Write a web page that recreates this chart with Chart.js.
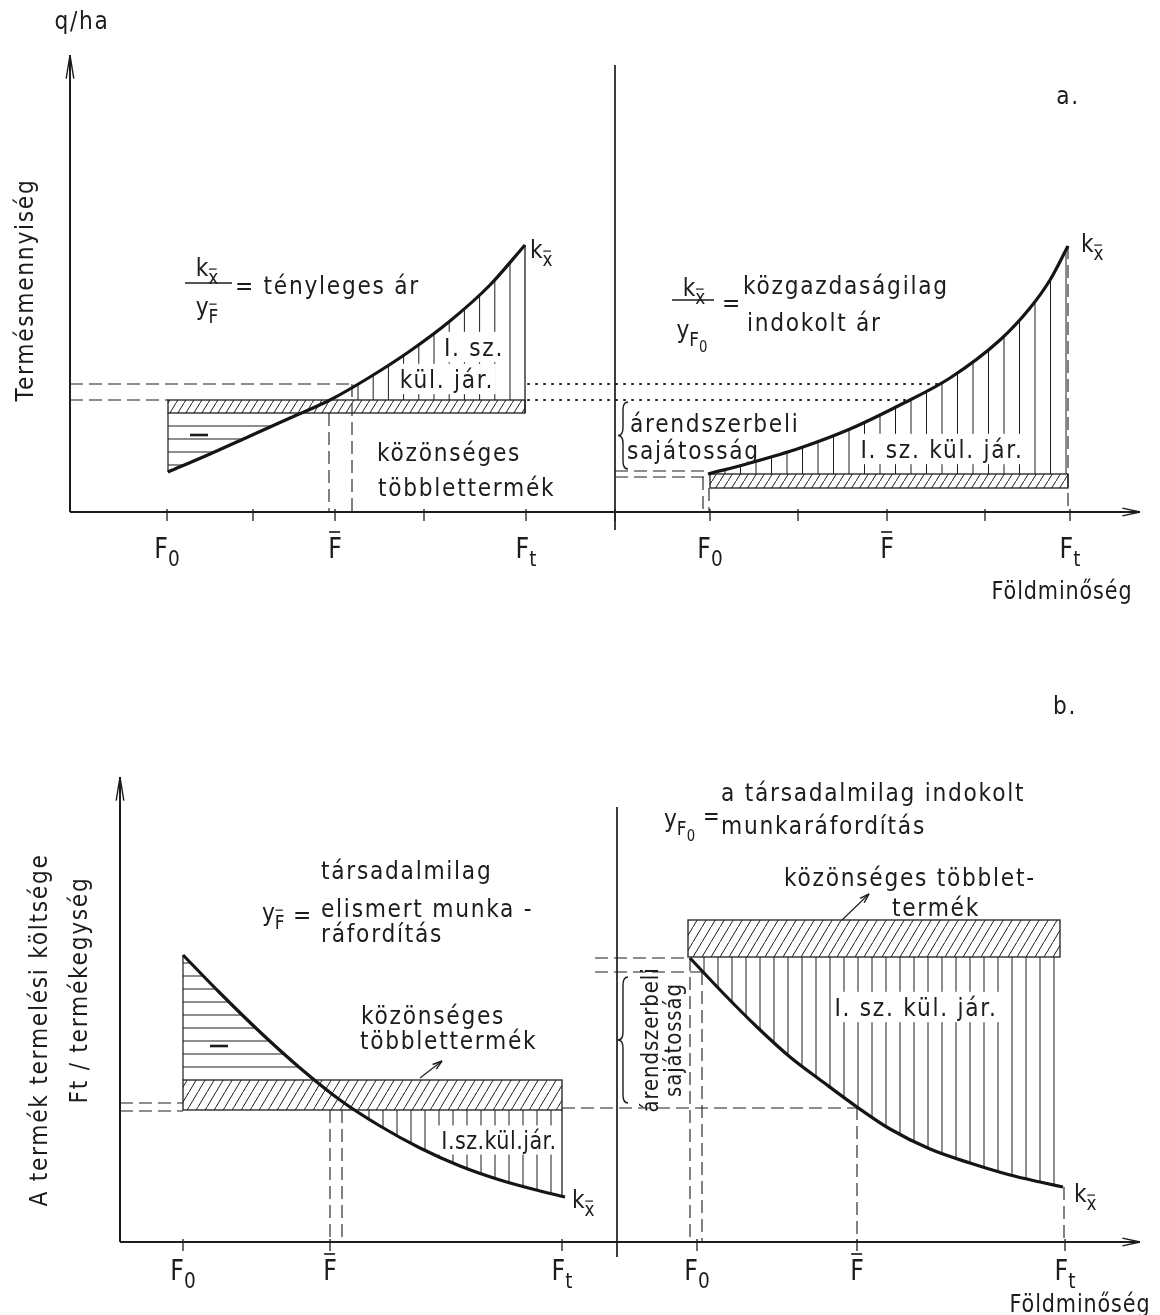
<!DOCTYPE html>
<html>
<head>
<meta charset="utf-8">
<script src="https://cdn.jsdelivr.net/npm/chart.js@4.4.1/dist/chart.umd.min.js"></script>
<style>
  body { margin: 0; background: #fff; }
  canvas { position: absolute; left: 0; }
</style>
</head>
<body>
<canvas id="chartA" width="1160" height="657" style="top:0"></canvas>
<canvas id="chartB" width="1160" height="658" style="top:657px"></canvas>
<script>
// ---- a. : yield (q/ha) against land quality ----
var aTickPos     = [9.7, 26.5, 45.6, 64, 81.7, 100];
var aTickLabels  = ['F_0', '~F', 'F_t', 'F_0', '~F', 'F_t'];
var aMinorTicks  = [18.3, 35.4, 54.5, 72.8, 91.5];
var aLeftX       = [9.8, 14, 18, 22, 26, 30, 34, 38, 42, 45.5];
var aLeftY       = [8, 11.6, 15.2, 18.8, 22.4, 27, 32.2, 38.2, 45.4, 53.4];
var aRightX      = [63.8, 68, 73, 78, 83, 88, 93, 96, 98, 99.8];
var aRightY      = [7.6, 9.8, 12.8, 16.6, 21.4, 26.8, 34.4, 40.8, 46.4, 53.2];
var aBandLeft    = [19.8, 22.4];   // common surplus band, left
var aBandRight   = [4.8, 7.6];     // common surplus band, right
var aPriceLevels = [25.6, 22.4];   // dashed / dotted levels

// ---- b. : production cost per unit against land quality ----
var bTickPos     = [6.3, 21, 44.2, 57.7, 73.7, 94.5];
var bTickLabels  = ['F_0', '~F', 'F_t', 'F_0', '~F', 'F_t'];
var bLeftX       = [6.3, 10, 14, 18, 22, 26, 30, 34, 38, 42, 44.5];
var bLeftY       = [57.4, 49.8, 42, 34.8, 28.4, 23.2, 18.8, 15.2, 12.4, 10.2, 9];
var bRightX      = [57, 60.3, 63.7, 67, 70.3, 73.7, 77, 81, 85, 89, 92, 94.3];
var bRightY      = [56.8, 49.8, 43, 37, 32, 27, 22.6, 18.6, 15.8, 13.4, 12, 11];
var bBandLeft    = [26.4, 32.4];
var bBoxRight    = [57, 64.4];

var FONT = '"DejaVu Sans", "Noto Sans", sans-serif';
var INK = '#1c1c1c';
var NARROW = 0.86;   // lettering is taller and narrower than the font

function pts(xs, ys) { return xs.map(function (x, i) { return { x: x, y: ys[i] }; }); }

function yAt(xs, ys, x) {
  for (var i = 0; i < xs.length - 1; i++) {
    if (x >= xs[i] && x <= xs[i + 1]) {
      var t = (x - xs[i]) / (xs[i + 1] - xs[i]);
      return ys[i] + t * (ys[i + 1] - ys[i]);
    }
  }
  return ys[ys.length - 1];
}
function xAt(xs, ys, y) {
  for (var i = 0; i < ys.length - 1; i++) {
    var lo = Math.min(ys[i], ys[i + 1]), hi = Math.max(ys[i], ys[i + 1]);
    if (y >= lo && y <= hi) {
      var t = (y - ys[i]) / (ys[i + 1] - ys[i]);
      return xs[i] + t * (xs[i + 1] - xs[i]);
    }
  }
  return xs[xs.length - 1];
}

function seg(ctx, x1, y1, x2, y2, w, dash) {
  ctx.save();
  ctx.lineWidth = w || 1.2;
  ctx.strokeStyle = INK;
  ctx.setLineDash(dash || []);
  if (dash && dash[0] < 4) ctx.lineCap = 'round';
  ctx.beginPath(); ctx.moveTo(x1, y1); ctx.lineTo(x2, y2); ctx.stroke();
  ctx.restore();
}

function head(ctx, x, y, ang, len, spread) {
  var a1 = ang + Math.PI - spread, a2 = ang + Math.PI + spread;
  seg(ctx, x, y, x + len * Math.cos(a1), y + len * Math.sin(a1), 1.4);
  seg(ctx, x, y, x + len * Math.cos(a2), y + len * Math.sin(a2), 1.4);
}

function arrow(ctx, x1, y1, x2, y2) {
  seg(ctx, x1, y1, x2, y2, 1.1);
  head(ctx, x2, y2, Math.atan2(y2 - y1, x2 - x1), 10, 0.3);
}

function brace(ctx, x, y1, y2, w) {
  var m = (y1 + y2) / 2, r = Math.min(8, (y2 - y1) / 6);
  ctx.save();
  ctx.strokeStyle = INK; ctx.lineWidth = 1.4;
  ctx.beginPath();
  ctx.moveTo(x + w, y1);
  ctx.quadraticCurveTo(x, y1, x, y1 + r);
  ctx.lineTo(x, m - r);
  ctx.quadraticCurveTo(x, m, x - w, m);
  ctx.quadraticCurveTo(x, m, x, m + r);
  ctx.lineTo(x, y2 - r);
  ctx.quadraticCurveTo(x, y2, x + w, y2);
  ctx.stroke();
  ctx.restore();
}

function hatch(ctx, w, h) {
  var c = document.createElement('canvas');
  c.width = w; c.height = h;
  var g = c.getContext('2d');
  g.strokeStyle = INK; g.lineWidth = 1;
  g.beginPath();
  g.moveTo(-w * 0.2, h * 1.2); g.lineTo(w * 1.2, -h * 0.2);
  g.stroke();
  return ctx.createPattern(c, 'repeat');
}

function box(ctx, x1, y1, x2, y2, pw, ph) {
  ctx.save();
  ctx.fillStyle = hatch(ctx, pw, ph);
  ctx.fillRect(x1, y1, x2 - x1, y2 - y1);
  ctx.strokeStyle = INK; ctx.lineWidth = 1.3;
  ctx.strokeRect(x1, y1, x2 - x1, y2 - y1);
  ctx.restore();
}

// text with '_' subscripts and '~' overbars, y = vertical middle
function rich(ctx, str, x, y, size, opts) {
  opts = opts || {};
  size = size * 1.15;
  var parts = str.split('_').map(function (p, i) {
    var bar = p.charAt(0) === '~';
    return { t: bar ? p.slice(1) : p, bar: bar, s: size * Math.pow(0.78, i) };
  });
  ctx.save();
  ctx.translate(x, y);
  if (opts.rot) ctx.rotate(opts.rot);
  ctx.scale(NARROW, 1);
  ctx.textBaseline = 'alphabetic';
  ctx.letterSpacing = (opts.sp != null ? opts.sp : 2) + 'px';
  var total = 0;
  parts.forEach(function (p) { ctx.font = p.s + 'px ' + FONT; p.w = ctx.measureText(p.t).width; total += p.w; });
  var cx = opts.align === 'center' ? -total / 2 : 0;
  var base = size * 0.36;
  if (opts.bg) { ctx.fillStyle = '#fff'; ctx.fillRect(cx - 4, -size * 0.6, total + 6, size * 1.2); }
  ctx.fillStyle = INK;
  var dy = 0;
  parts.forEach(function (p, i) {
    if (i > 0) dy += parts[i - 1].s * 0.3;
    ctx.font = p.s + 'px ' + FONT;
    ctx.fillText(p.t, cx, base + dy);
    if (p.bar) {
      var hh = /[A-Z]/.test(p.t) ? 0.8 : 0.6;
      var by = base + dy - p.s * hh - Math.max(2.5, p.s * 0.14);
      seg(ctx, cx + p.s * 0.04, by, cx + p.w - 2, by, Math.max(1, p.s * 0.06));
    }
    cx += p.w;
  });
  ctx.restore();
}

function axes(ctx, X, Y, xEnd, yEnd, divX, divY1, divY2) {
  seg(ctx, X(0), Y(0), X(xEnd), Y(0), 2);
  head(ctx, X(xEnd), Y(0), 0, 18, 0.22);
  seg(ctx, X(0), Y(0), X(0), Y(yEnd), 2);
  head(ctx, X(0), Y(yEnd), -Math.PI / 2, 24, 0.16);
  seg(ctx, X(divX), Y(divY1), X(divX), Y(divY2), 1.7);
}

function ticks(ctx, X, Y, list) {
  list.forEach(function (t) { seg(ctx, X(t), Y(0) - 3, X(t), Y(0) + 9, 1.3); });
}

function vLines(ctx, X, Y, from, to, step, base, cx, cy) {
  for (var x = from; x < to - 0.2; x += step) {
    seg(ctx, X(x), Y(base), X(x), Y(yAt(cx, cy, x)), 1);
  }
}

var DASH = [13, 6], DOT = [1, 7];

var panelA = {
  id: 'panelA',
  beforeDatasetsDraw: function (chart) {
    var ctx = chart.ctx, sx = chart.scales.x, sy = chart.scales.y;
    var X = function (v) { return sx.getPixelForValue(v); };
    var Y = function (v) { return sy.getPixelForValue(v); };

    axes(ctx, X, Y, 107, 91.4, 54.5, -3.6, 89.4);
    ticks(ctx, X, Y, aTickPos.concat(aMinorTicks));
    aTickPos.forEach(function (t, i) { rich(ctx, aTickLabels[i], X(t), Y(-7.2), 24, { align: 'center', sp: 0 }); });

    // left: common surplus band and the negative part below it
    box(ctx, X(aLeftX[0]), Y(aBandLeft[1]), X(45.5), Y(aBandLeft[0]), 8, 13);
    [17.2, 14.6, 12, 9.4].forEach(function (lv) {
      seg(ctx, X(aLeftX[0]), Y(lv), X(xAt(aLeftX, aLeftY, lv)), Y(lv), 1);
    });
    seg(ctx, X(aLeftX[0]), Y(aBandLeft[0]), X(aLeftX[0]), Y(aLeftY[0]), 1.2);
    seg(ctx, X(12), Y(15.4), X(13.8), Y(15.4), 2.6);
    // differential rent I, left
    vLines(ctx, X, Y, 28.8, 45.5, 1.52, aBandLeft[1], aLeftX, aLeftY);
    seg(ctx, X(45.5), Y(aBandLeft[0]), X(45.5), Y(aLeftY[aLeftY.length - 1]), 1.3);

    seg(ctx, X(0), Y(aPriceLevels[0]), X(28.2), Y(aPriceLevels[0]), 1.2, DASH);
    seg(ctx, X(0), Y(aPriceLevels[1]), X(aLeftX[0]), Y(aPriceLevels[1]), 1.2, DASH);
    seg(ctx, X(25.9), Y(aBandLeft[0]), X(25.9), Y(0), 1.1, DASH);
    seg(ctx, X(28.2), Y(aPriceLevels[0]), X(28.2), Y(0), 1.1, DASH);
    seg(ctx, X(45.8), Y(aPriceLevels[0]), X(xAt(aRightX, aRightY, aPriceLevels[0])), Y(aPriceLevels[0]), 2, DOT);
    seg(ctx, X(45.8), Y(aPriceLevels[1]), X(xAt(aRightX, aRightY, aPriceLevels[1])), Y(aPriceLevels[1]), 2, DOT);

    // right
    box(ctx, X(64), Y(aBandRight[1]), X(99.8), Y(aBandRight[0]), 8, 13);
    vLines(ctx, X, Y, 65.5, 99.8, 1.55, aBandRight[1], aRightX, aRightY);
    seg(ctx, X(99.8), Y(aRightY[aRightY.length - 1]), X(99.8), Y(0), 1.1, DASH);
    seg(ctx, X(54.5), Y(8.2), X(63.6), Y(8.2), 1.1, DASH);
    seg(ctx, X(54.5), Y(7.0), X(64), Y(7.0), 1.1, DASH);
    seg(ctx, X(63.3), Y(7), X(63.3), Y(0), 1.1, DASH);
    seg(ctx, X(63.9), Y(4.8), X(63.9), Y(0), 1.1, DASH);
    brace(ctx, X(55.3), Y(22), Y(8.6), 5);

    // texts
    rich(ctx, 'q/ha', X(1.2), Y(98.4), 22, { align: 'center', sp: 2 });
    rich(ctx, 'a.', X(99.8), Y(83.4), 22, { align: 'center' });
    rich(ctx, 'Termésmennyiség', X(-4.6), Y(44.4), 22, { align: 'center', rot: -Math.PI / 2 });

    rich(ctx, 'k_~x', X(13.7), Y(49), 22, { align: 'center', sp: 0 });
    seg(ctx, X(11.5), Y(45.8), X(16.2), Y(45.8), 1.3);
    rich(ctx, 'y_~F', X(13.7), Y(41.2), 22, { align: 'center', sp: 0 });
    rich(ctx, '= tényleges ár', X(16.5), Y(45.4), 22);
    rich(ctx, 'k_~x', X(46), Y(52.6), 22, { sp: 0 });

    rich(ctx, 'k_~x', X(62.4), Y(45), 22, { align: 'center', sp: 0 });
    seg(ctx, X(60.2), Y(42.4), X(64.4), Y(42.4), 1.3);
    rich(ctx, 'y_F_0', X(62.2), Y(36.6), 22, { align: 'center', sp: 0 });
    rich(ctx, '=', X(65.2), Y(42), 22);
    rich(ctx, 'közgazdaságilag', X(67.3), Y(45.4), 22);
    rich(ctx, 'indokolt ár', X(67.7), Y(38), 22);
    rich(ctx, 'k_~x', X(101.1), Y(53.8), 22, { sp: 0 });

    rich(ctx, 'I. sz.', X(40.4), Y(33), 22, { align: 'center', bg: true });
    rich(ctx, 'kül. jár.', X(37.7), Y(26.6), 22, { align: 'center', bg: true });
    rich(ctx, 'közönséges', X(30.7), Y(12), 22);
    rich(ctx, 'többlettermék', X(30.8), Y(5), 22);

    rich(ctx, 'árendszerbeli', X(56), Y(17.8), 22);
    rich(ctx, 'sajátosság', X(55.7), Y(12.4), 22);
    rich(ctx, 'I. sz. kül. jár.', X(87.2), Y(12.6), 22, { align: 'center', bg: true });
    rich(ctx, 'Földminőség', X(99.2), Y(-15.6), 21, { align: 'center', sp: 1 });
  }
};

var panelB = {
  id: 'panelB',
  beforeDatasetsDraw: function (chart) {
    var ctx = chart.ctx, sx = chart.scales.x, sy = chart.scales.y;
    var X = function (v) { return sx.getPixelForValue(v); };
    var Y = function (v) { return sy.getPixelForValue(v); };

    axes(ctx, X, Y, 102, 93, 49.7, -3, 87);
    ticks(ctx, X, Y, bTickPos);
    bTickPos.forEach(function (t, i) { rich(ctx, bTickLabels[i], X(t), Y(-5.6), 24, { align: 'center', sp: 0 }); });

    // left
    box(ctx, X(bLeftX[0]), Y(bBandLeft[1]), X(44.2), Y(bBandLeft[0]), 9, 15);
    for (var lv = 35; lv < bLeftY[0] - 0.5; lv += 2.6) {
      seg(ctx, X(bLeftX[0]), Y(lv), X(xAt(bLeftX, bLeftY, lv)), Y(lv), 1);
    }
    seg(ctx, X(bLeftX[0]), Y(bBandLeft[1]), X(bLeftX[0]), Y(bLeftY[0]), 1.2);
    seg(ctx, X(9), Y(39.2), X(10.8), Y(39.2), 2.6);
    vLines(ctx, X, Y, 23.5, 44.2, 1.4, bBandLeft[0], bLeftX, bLeftY);
    seg(ctx, X(44.2), Y(bBandLeft[0]), X(44.2), Y(bLeftY[bLeftY.length - 1]), 1.3);

    seg(ctx, X(0), Y(27.8), X(bLeftX[0]), Y(27.8), 1.1, DASH);
    seg(ctx, X(0), Y(26.2), X(bLeftX[0]), Y(26.2), 1.1, DASH);
    seg(ctx, X(21), Y(bBandLeft[0]), X(21), Y(0), 1.1, DASH);
    seg(ctx, X(22.2), Y(bBandLeft[0]), X(22.2), Y(0), 1.1, DASH);
    seg(ctx, X(44.2), Y(26.8), X(73.7), Y(26.8), 1.1, DASH);

    // right
    box(ctx, X(56.8), Y(bBoxRight[1]), X(94), Y(bBoxRight[0]), 9, 15);
    vLines(ctx, X, Y, 58.4, 94, 1.4, bBoxRight[0], bRightX, bRightY);
    seg(ctx, X(94.4), Y(bRightY[bRightY.length - 1]), X(94.4), Y(0), 1.1, DASH);
    seg(ctx, X(47.5), Y(56.8), X(57), Y(56.8), 1.1, DASH);
    seg(ctx, X(47.5), Y(54), X(58.2), Y(54), 1.1, DASH);
    seg(ctx, X(57), Y(56.8), X(57), Y(0), 1.1, DASH);
    seg(ctx, X(58.2), Y(54), X(58.2), Y(0), 1.1, DASH);
    seg(ctx, X(73.7), Y(27), X(73.7), Y(0), 1.1, DASH);
    brace(ctx, X(50.3), Y(53), Y(27.8), 5);

    // texts
    rich(ctx, 'b.', X(94.5), Y(107.4), 22, { align: 'center' });
    rich(ctx, 'A termék termelési költsége', X(-8.2), Y(42.4), 22, { align: 'center', rot: -Math.PI / 2 });
    rich(ctx, 'Ft / termékegység', X(-4.2), Y(50.4), 22, { align: 'center', rot: -Math.PI / 2 });

    rich(ctx, 'társadalmilag', X(20.1), Y(74.4), 22);
    rich(ctx, 'y_~F', X(14.2), Y(66), 22, { sp: 0 });
    rich(ctx, '=', X(17.3), Y(65.6), 22);
    rich(ctx, 'elismert munka -', X(20.1), Y(66.8), 22);
    rich(ctx, 'ráfordítás', X(20.1), Y(61.8), 22);
    rich(ctx, 'közönséges', X(24.1), Y(45.4), 22);
    rich(ctx, 'többlettermék', X(24), Y(40.4), 22);
    arrow(ctx, X(30), Y(32.8), X(32.2), Y(36.2));
    rich(ctx, 'I.sz.kül.jár.', X(37.9), Y(20.4), 21, { align: 'center', bg: true, sp: 0.5 });
    rich(ctx, 'k_~x', X(45.2), Y(8.6), 22, { sp: 0 });

    rich(ctx, 'y_F_0', X(54.4), Y(84.8), 22, { sp: 0 });
    rich(ctx, '=', X(58.3), Y(85.2), 20);
    rich(ctx, 'a társadalmilag indokolt', X(60.1), Y(90), 22);
    rich(ctx, 'munkaráfordítás', X(60.1), Y(83.4), 22);
    rich(ctx, 'közönséges többlet-', X(66.4), Y(73), 22);
    rich(ctx, 'termék', X(77.2), Y(67), 22);
    arrow(ctx, X(72.2), Y(64.4), X(74.9), Y(69.6));
    rich(ctx, 'I. sz. kül. jár.', X(79.6), Y(47), 22, { align: 'center', bg: true });
    rich(ctx, 'k_~x', X(95.4), Y(9.8), 22, { sp: 0 });

    rich(ctx, 'árendszerbeli', X(53), Y(40.4), 20, { align: 'center', rot: -Math.PI / 2, sp: 1 });
    rich(ctx, 'sajátosság', X(55.3), Y(40.4), 20, { align: 'center', rot: -Math.PI / 2, sp: 1 });
    rich(ctx, 'Földminőség', X(96), Y(-12.2), 21, { align: 'center', sp: 1 });
  }
};

function curve(xs, ys) {
  return {
    data: pts(xs, ys),
    showLine: true,
    borderColor: '#151515',
    borderWidth: 3.2,
    pointRadius: 0,
    cubicInterpolationMode: 'monotone',
    clip: false
  };
}

function options(xMax, pad) {
  return {
    responsive: false,
    animation: false,
    layout: { padding: pad },
    scales: {
      x: { type: 'linear', display: false, min: 0, max: xMax },
      y: { type: 'linear', display: false, min: 0, max: 100 }
    },
    plugins: { legend: { display: false }, tooltip: { enabled: false } }
  };
}

new Chart(document.getElementById('chartA'), {
  type: 'scatter',
  data: { datasets: [curve(aLeftX, aLeftY), curve(aRightX, aRightY)] },
  options: options(107, { left: 70, right: 20, top: 12, bottom: 145 }),
  plugins: [panelA]
});

new Chart(document.getElementById('chartB'), {
  type: 'scatter',
  data: { datasets: [curve(bLeftX, bLeftY), curve(bRightX, bRightY)] },
  options: options(102, { left: 120, right: 20, top: 85, bottom: 73 }),
  plugins: [panelB]
});
</script>
</body>
</html>
